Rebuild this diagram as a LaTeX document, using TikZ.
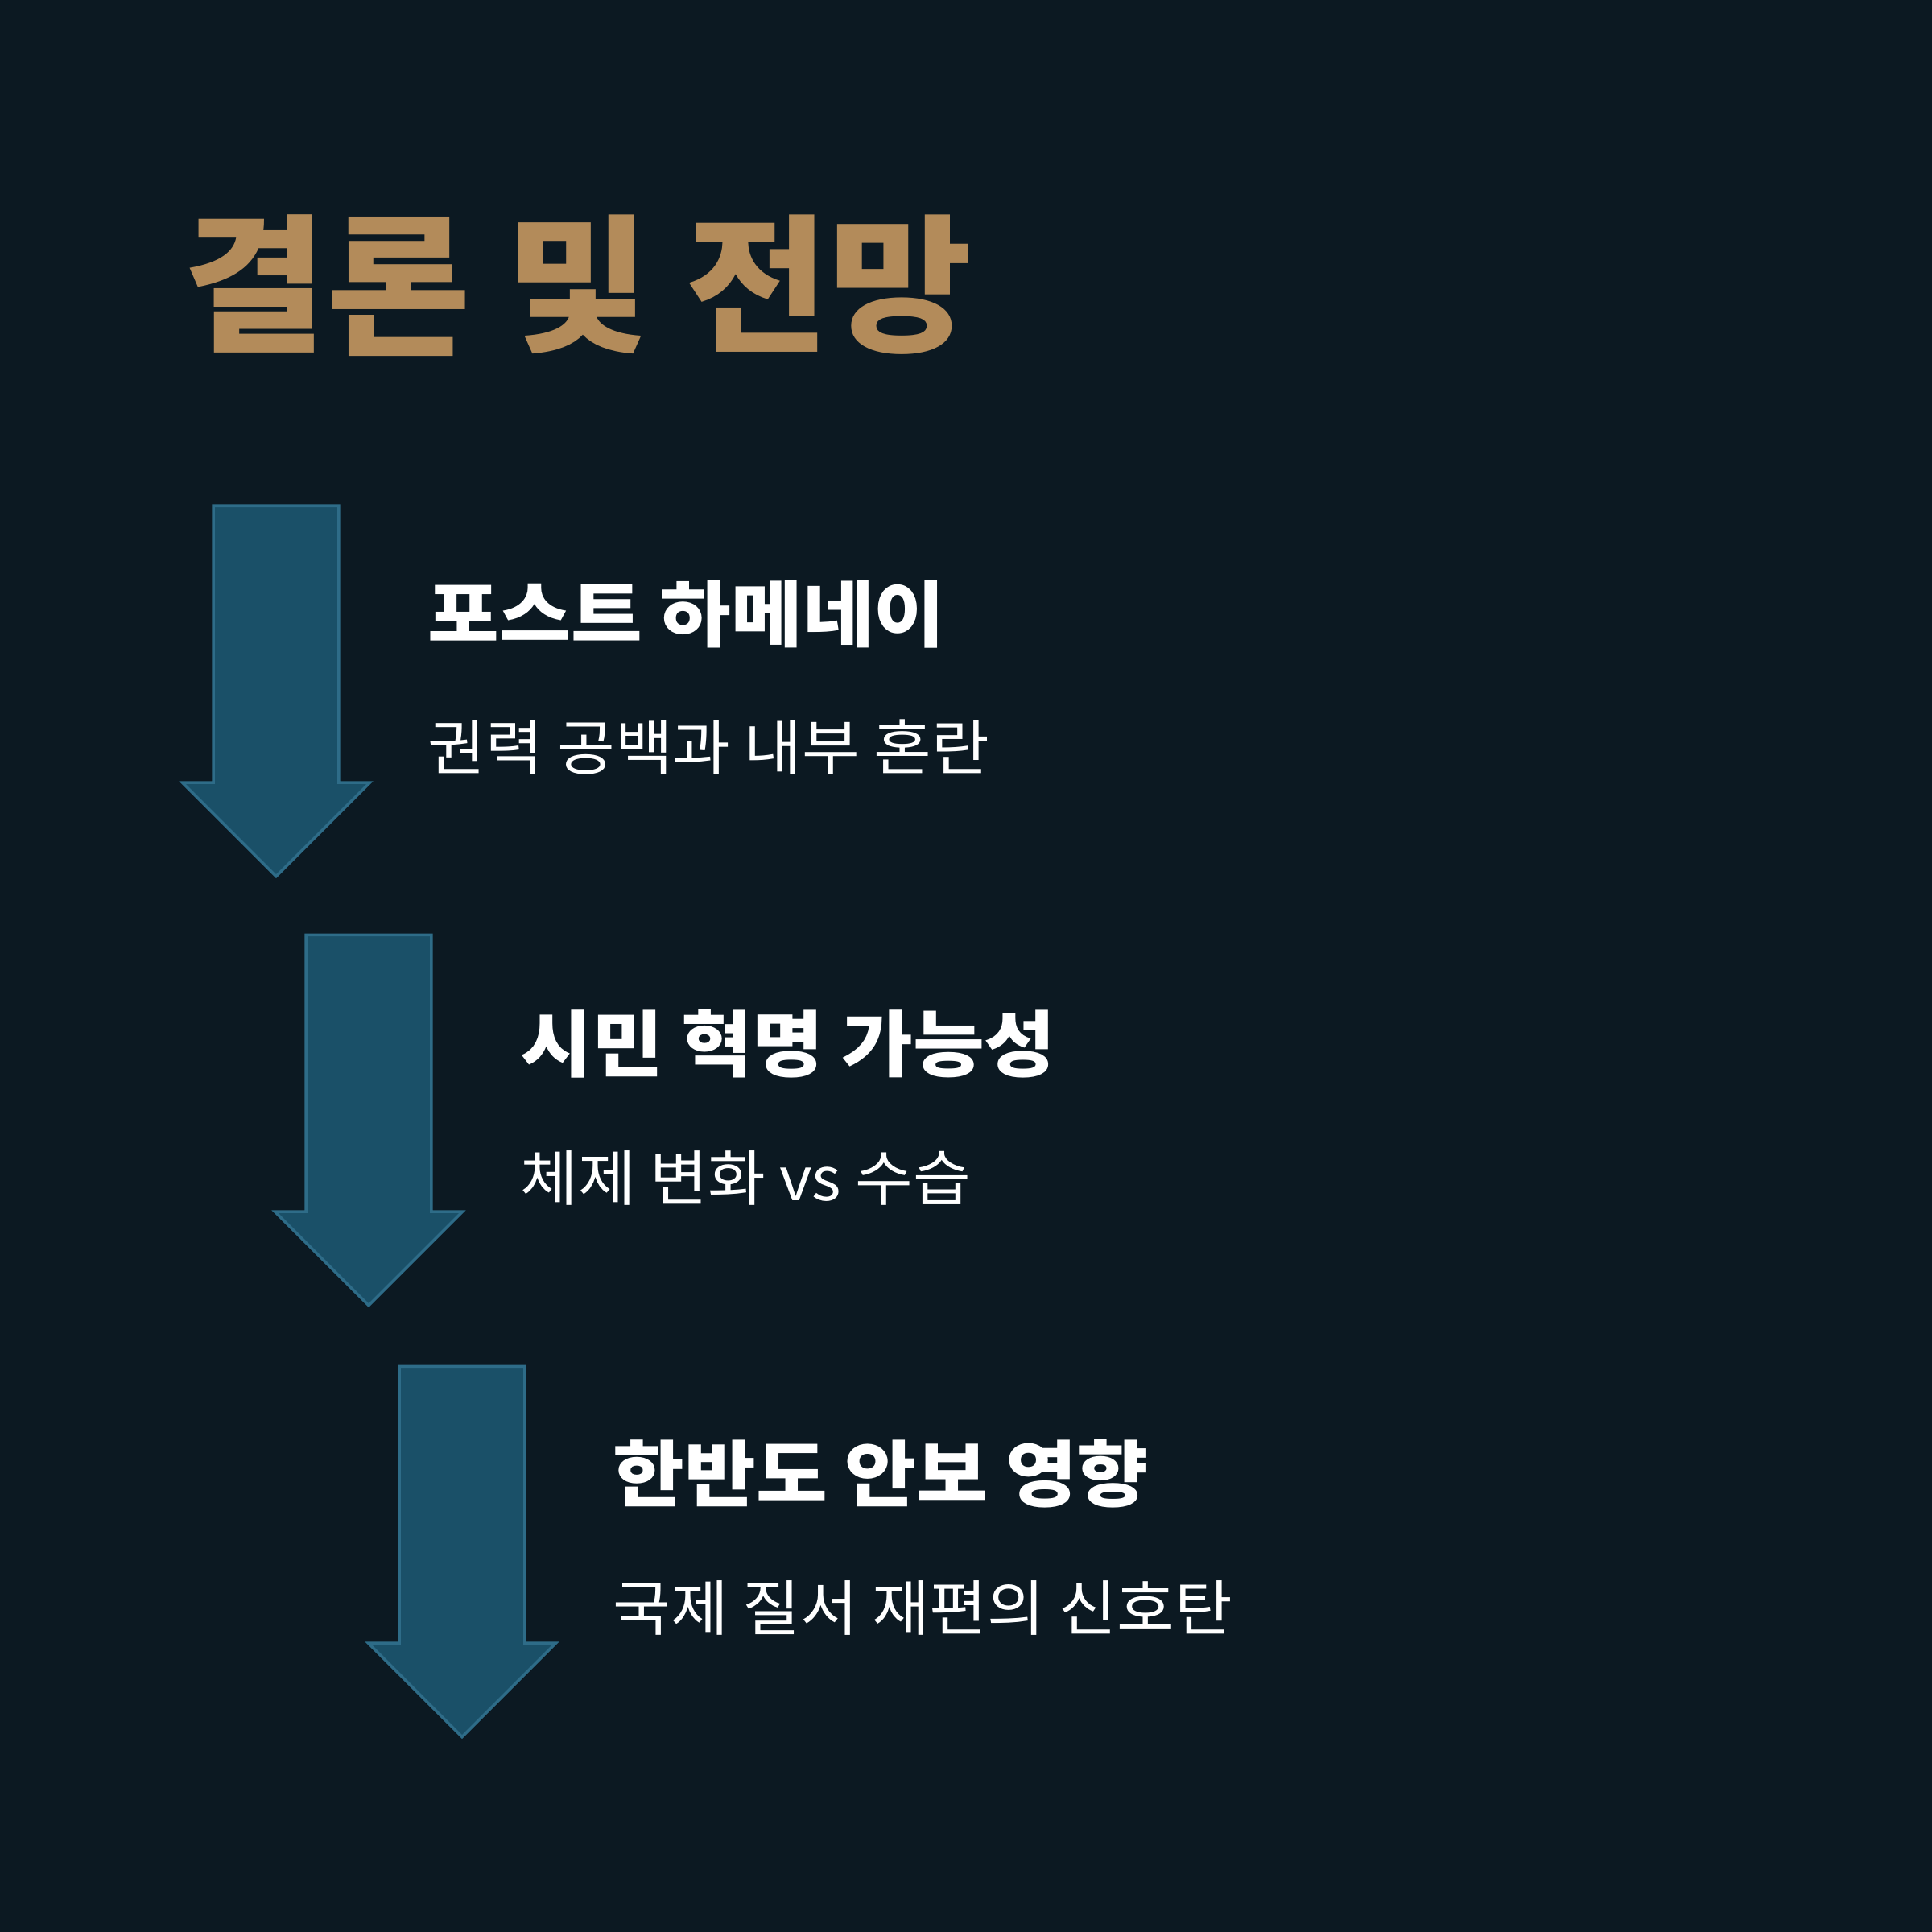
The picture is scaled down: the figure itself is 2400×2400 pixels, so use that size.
\documentclass[tikz,border=0pt]{standalone}
\usepackage{fontspec}
\setmainfont{Noto Sans CJK KR}
\newfontfamily\ttlfont[FakeStretch=1.05]{Noto Sans CJK KR}
\newfontfamily\headfont[FakeStretch=1.075]{Noto Sans CJK KR}
\newfontfamily\subfont[FakeStretch=1.04]{Noto Sans CJK KR}
\usetikzlibrary{shapes.arrows, positioning}
\definecolor{bgnavy}{RGB}{12,25,34}
\definecolor{arrfill}{RGB}{26,80,104}
\definecolor{arrline}{RGB}{46,108,136}
\definecolor{gold}{RGB}{179,139,90}
\tikzset{
  stepdown/.style={single arrow, draw=arrline, fill=arrfill, line width=1pt,
                   minimum height=4.6cm, minimum width=2.3cm,
                   single arrow head extend=0.385cm, single arrow tip angle=90,
                   single arrow head indent=0pt, inner xsep=0pt, inner ysep=0.76cm,
                   rotate=-90},
  ttl/.style={anchor=west, inner sep=0pt, text=gold,
              font=\ttlfont\fontsize{52.5pt}{60pt}\selectfont\bfseries},
  head/.style={anchor=west, inner sep=0pt, text=white,
               font=\headfont\fontsize{25.5pt}{30pt}\selectfont\bfseries},
  sub/.style={anchor=west, inner sep=0pt, text=white,
              font=\subfont\fontsize{21.3pt}{26pt}\selectfont},
}
\begin{document}
\begin{tikzpicture}[x=0.01cm, y=-0.01cm]
  \fill[bgnavy] (0,0) rectangle (2400,2400);

  \node[ttl] (title) at (227,355) {결론 및 전망};

  \node[stepdown, anchor=tip] (a1) at (343,1091) {};
  \node[stepdown, anchor=tip] (a2) at (458,1624) {};
  \node[stepdown, anchor=tip] (a3) at (574,2160) {};

  \node[head] (h1) at (531,763)  {포스트 하메네이};
  \node[sub]  (s1) at (531,928)  {권력 공백과 내부 혼란};
  \node[head] (h2) at (646,1297) {시민 혁명 가능성};
  \node[sub]  (s2) at (646,1463) {체제 변화 vs 수습};
  \node[head] (h3) at (761,1831) {한반도 안보 영향};
  \node[sub]  (s3) at (761,1997) {국제 질서 재편의 신호탄};
\end{tikzpicture}
\end{document}
